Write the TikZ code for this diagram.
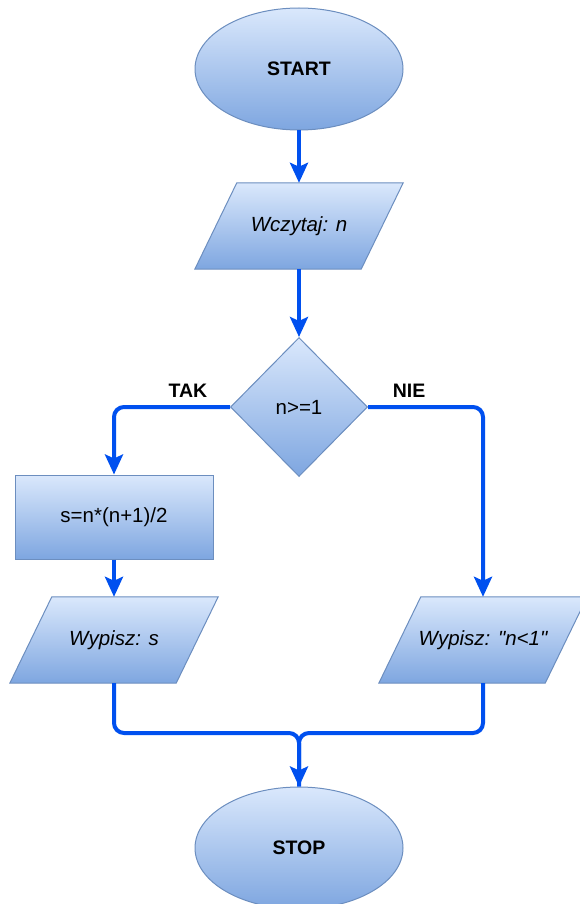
\documentclass[tikz,border=0pt]{standalone}
\usepackage{fontspec}
\setmainfont{Liberation Sans}
\usetikzlibrary{shapes.geometric,arrows.meta,backgrounds,calc}
\definecolor{fillTop}{HTML}{DAE8FC}
\definecolor{fillBot}{HTML}{7EA6E0}
\definecolor{strokeC}{HTML}{6C8EBF}
\definecolor{arrowC}{HTML}{0050EF}
\tikzset{
  shade box/.style={draw=strokeC, line width=1pt, top color=fillTop, bottom color=fillBot},
  box/.style={shade box, inner sep=0pt, font=\fontsize{20.5}{24}\selectfont, text=black},
  term/.style={box, ellipse, minimum width=208pt, minimum height=122pt, font=\bfseries\fontsize{19.5}{23}\selectfont},
  io/.style={rectangle, inner sep=0pt, minimum width=208pt, minimum height=86pt, text=black, font=\itshape\fontsize{20.5}{24}\selectfont},
  proc/.style={box, rectangle, minimum width=198pt, minimum height=84pt},
  dec/.style={box, diamond, minimum width=137pt, minimum height=139pt},
  conn/.style={draw=arrowC, line width=4pt, rounded corners=10pt},
  arr/.style={conn, -{Stealth[length=20pt,width=18pt,inset=4pt]}},
  lbl/.style={font=\bfseries\fontsize{19.5}{23}\selectfont, text=black}
}
\begin{document}
\begin{tikzpicture}[x=1pt,y=-1pt]
\useasboundingbox (0,0) rectangle (579,904);
\clip (0,0) rectangle (579,904);
\node[term] (start) at (299,69) {START};
\node[io] (wcz) at (299,226) {Wczytaj: n};
\node[dec] (cond) at (299,407) {n>=1};
\node[proc] (calc) at (114,517) {s=n*(n+1)/2};
\node[io] (outs) at (114,640) {Wypisz: s};
\node[io] (outn) at (483,640) {Wypisz: \textquotedbl n<1\textquotedbl};
\node[term] (stop) at (299,848) {STOP};
\coordinate (m) at (299,733);
\node[lbl] (tak) at (188,391) {TAK};
\node[lbl] (nie) at (409,391) {NIE};
\begin{scope}[on background layer]
\foreach \n in {wcz,outs,outn}{
  \path[shade box] (\n.south west) -- ($(\n.north west)+(42,0)$)
    -- (\n.north east) -- ($(\n.south east)+(-42,0)$) -- cycle;
}
\end{scope}
\draw[arr] (start) -- (wcz);
\draw[arr] (wcz) -- (cond);
\draw[arr] (cond.west) -| (calc);
\draw[arr] (cond.east) -| (outn);
\draw[arr] (calc) -- (outs);
\draw[conn] (outs) |- (m) -- (stop);
\draw[arr] (outn) |- (m) -- (stop);
\end{tikzpicture}
\end{document}
